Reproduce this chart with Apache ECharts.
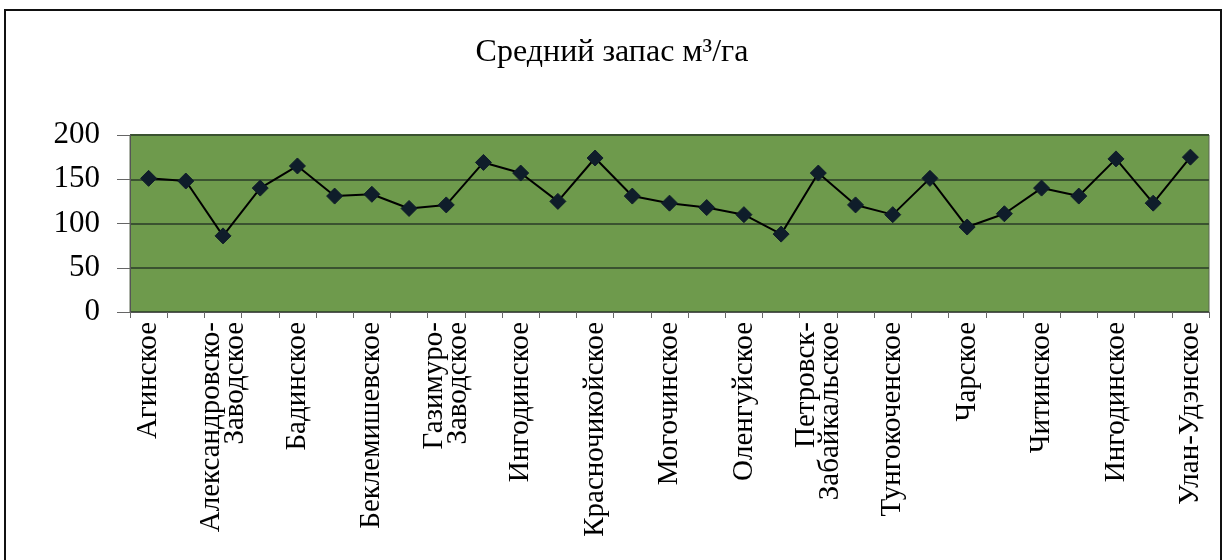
<!DOCTYPE html>
<html>
<head>
<meta charset="utf-8">
<script src="https://cdn.jsdelivr.net/npm/echarts@6/dist/echarts.min.js"></script>
<style>
html,body{margin:0;padding:0;background:#fff;}
#c{width:1224px;height:560px;}
</style>
</head>
<body>
<div id="c"></div>
<script>
const titleText = 'Средний запас м³/га';
const categories = [
  'Агинское', '',
  'Александровско-\nЗаводское', '',
  'Бадинское', '',
  'Беклемишевское', '',
  'Газимуро-\nЗаводское', '',
  'Ингодинское', '',
  'Красночикойское', '',
  'Могочинское', '',
  'Оленгуйское', '',
  'Петровск-\nЗабайкальское', '',
  'Тунгокоченское', '',
  'Чарское', '',
  'Читинское', '',
  'Ингодинское', '',
  'Улан-Удэнское'
];
const values = [151, 148, 86, 140, 165, 131, 133, 117, 121, 169, 157, 125, 174, 131, 123, 118, 110, 88, 157, 121, 110, 151, 96, 111, 140, 131, 173, 123, 175];
const yMin = 0, yMax = 200, yStep = 50;

const chart = echarts.init(document.getElementById('c'));
chart.setOption({
  animation: false,
  backgroundColor: '#ffffff',
  graphic: [{
    type: 'rect', silent: true, z: -1,
    shape: {x: 5, y: 10, width: 1216, height: 600},
    style: {fill: 'none', stroke: '#111', lineWidth: 2}
  }],
  title: {
    text: titleText,
    left: 'center', top: 32,
    textStyle: {fontFamily: 'Liberation Serif', fontSize: 32, fontWeight: 'normal', color: '#000'}
  },
  grid: {
    left: 130, right: 15, top: 135, bottom: 248,
    show: true, backgroundColor: '#6e9a4c', borderColor: '#5a6650', borderWidth: 1
  },
  xAxis: {
    type: 'category',
    data: categories,
    boundaryGap: true,
    axisLine: {lineStyle: {color: '#555', width: 1}},
    axisTick: {show: true, interval: 0, length: 6, lineStyle: {color: '#666'}},
    axisLabel: {
      interval: 0, rotate: 90, margin: 10,
      fontFamily: 'Liberation Serif', fontSize: 29, color: '#000', lineHeight: 24
    },
    splitLine: {show: false}
  },
  yAxis: {
    type: 'value',
    min: yMin, max: yMax, interval: yStep,
    axisLine: {show: true, lineStyle: {color: '#555', width: 1}},
    axisTick: {show: true, length: 13, lineStyle: {color: '#666'}},
    axisLabel: {margin: 30, fontFamily: 'Liberation Serif', fontSize: 31, color: '#000'},
    splitLine: {show: true, lineStyle: {color: '#3a5230', width: 2}}
  },
  series: [{
    type: 'line',
    data: values,
    symbol: 'diamond',
    symbolSize: 16,
    lineStyle: {color: '#000', width: 2},
    itemStyle: {color: '#0f1d2a', borderColor: '#0f1d2a'},
    z: 3
  }]
});
</script>
</body>
</html>
